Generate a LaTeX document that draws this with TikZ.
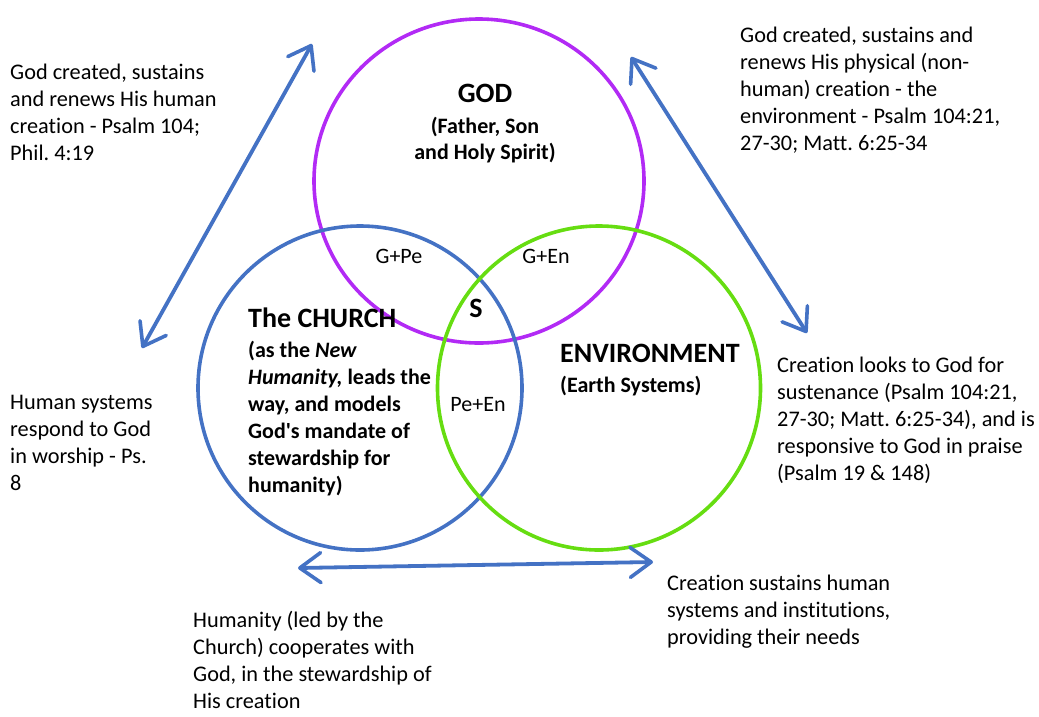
\documentclass[tikz,border=0pt]{standalone}
\usepackage{fontspec}
\setmainfont{Carlito}[Ligatures={TeXOff,NoCommon}]
\usetikzlibrary{arrows.meta,shapes.geometric}
\definecolor{cblue}{HTML}{4472C4}
\definecolor{cpurple}{HTML}{B22AF5}
\definecolor{cgreen}{HTML}{66DD11}
\frenchspacing
\tikzset{
  ring/.style={draw=#1, line width=3.6pt, ellipse, inner sep=0pt},
  barb/.tip={Straight Barb[length=21pt,width=30pt,round,line width=3.6pt]},
  dbl/.style={draw=cblue, line width=3.8pt, line cap=round, barb-barb},
  txt/.style={font=\fontsize{22.3}{27}\selectfont\frenchspacing, align=left, inner sep=0pt, anchor=north west},
  ttl/.style={font=\fontsize{28}{32}\selectfont\bfseries, inner sep=0pt},
  sub/.style={font=\fontsize{22}{27}\selectfont\bfseries, inner sep=0pt},
  lbl/.style={font=\fontsize{22}{27}\selectfont, inner sep=0pt, anchor=base}
}
\begin{document}
\begin{tikzpicture}[x=1pt,y=-1pt]
\useasboundingbox (0,0) rectangle (1039,716);
% circles
\node[ring=cpurple, minimum width=330pt, minimum height=324pt] (god) at (479,181) {};
\node[ring=cblue, minimum width=324pt, minimum height=324pt] (church) at (360,388) {};
\node[ring=cgreen, minimum width=323pt, minimum height=324pt] (env) at (599,388) {};
% circle labels
\node[ttl, anchor=base] (godt) at (485,102) {GOD};
\node[sub, anchor=north, align=center, font=\fontsize{22}{26}\selectfont\bfseries] (gods) at (485,114.8) {\strut(Father, Son\\and Holy Spirit)};
\node[ttl, anchor=base west] (churcht) at (248,327) {The CHURCH};
\node[sub, anchor=north west, align=left] (churchs) at (248,338.1) {\strut(as the \textit{New}\\\textit{Humanity,} leads the\\way, and models\\God's mandate of\\stewardship for\\humanity)};
\node[ttl, anchor=base west] (envt) at (560,362) {ENVIRONMENT};
\node[sub, anchor=base west] (envs) at (560,392) {(Earth Systems)};
\node[lbl] (gpe) at (399,263) {G+Pe};
\node[lbl] (gen) at (546,263) {G+En};
\node[ttl, anchor=base] (s) at (476,317) {S};
\node[lbl] (peen) at (478,411) {Pe+En};
% side texts
\node[txt] (t1) at (10,60.1) {\strut God created, sustains\\and renews His human\\creation - Psalm 104;\\Phil. 4:19};
\node[txt] (t2) at (740,23.1) {\strut God created, sustains and\\renews His physical (non-\\human) creation - the\\environment - Psalm 104:21,\\27-30; Matt. 6:25-34};
\node[txt] (t3) at (10,390.1) {\strut Human systems\\respond to God\\in worship - Ps.\\8};
\node[txt] (t4) at (777,353.1) {\strut Creation looks to God for\\sustenance (Psalm 104:21,\\27-30; Matt. 6:25-34), and is\\responsive to God in praise\\(Psalm 19 \& 148)};
\node[txt] (t5) at (193,608.1) {\strut Humanity (led by the\\Church) cooperates with\\God, in the stewardship of\\His creation};
\node[txt] (t6) at (667,571.1) {\strut Creation sustains human\\systems and institutions,\\providing their needs};
% arrows
\coordinate (a1) at (312,44);
\coordinate (a2) at (142,348);
\coordinate (b1) at (631,57);
\coordinate (b2) at (807,333);
\coordinate (c1) at (298,568);
\coordinate (c2) at (653,562);
\draw[dbl] (a1) -- (a2);
\draw[dbl] (b1) -- (b2);
\draw[dbl] (c1) -- (c2);
\end{tikzpicture}
\end{document}
